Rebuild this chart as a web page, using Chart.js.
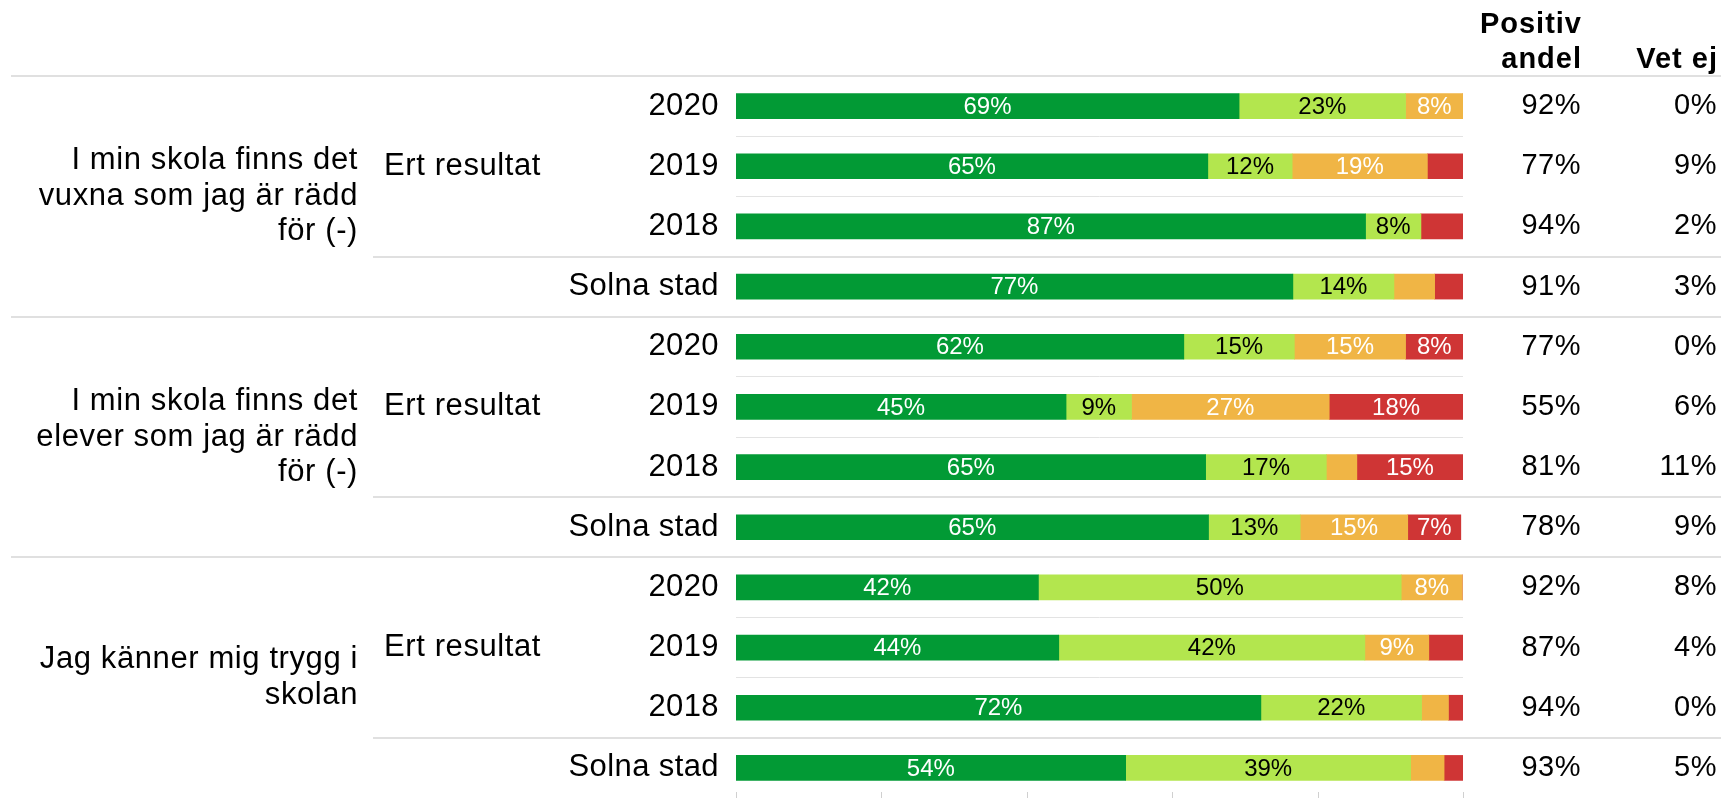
<!DOCTYPE html>
<html lang="sv">
<head>
<meta charset="utf-8">
<title>Trygghet</title>
<script src="https://cdn.jsdelivr.net/npm/chart.js@4"></script>
<style>
  html, body { margin: 0; padding: 0; background: #fff; overflow: hidden; }
  #wrap { position: relative; width: 1721px; height: 798px; }
</style>
</head>
<body>
<div id="wrap"><canvas id="barChart"></canvas></div>
<script>
// rows from top to bottom
var rowLabels = ['2020', '2019', '2018', 'Solna stad', '2020', '2019', '2018', 'Solna stad', '2020', '2019', '2018', 'Solna stad'];

var questions = [
    ['I min skola finns det', 'vuxna som jag är rädd', 'för (-)'],
    ['I min skola finns det', 'elever som jag är rädd', 'för (-)'],
    ['Jag känner mig trygg i', 'skolan']
];
var subgroupLabel = 'Ert resultat';

// shares in percent, most positive answer first
var mycketPositiv = [69.2, 64.9, 86.6, 76.6, 61.6, 45.4, 64.6, 65.0, 41.6, 44.4, 72.2, 53.6];
var ganskaPositiv = [22.9, 11.6, 7.6, 13.9, 15.2, 9.0, 16.6, 12.6, 49.9, 42.1, 22.1, 39.2];
var ganskaNegativ = [7.9, 18.6, 0, 5.6, 15.3, 27.2, 4.2, 14.8, 8.4, 8.8, 3.7, 4.6];
var mycketNegativ = [0, 4.9, 5.8, 3.9, 7.9, 18.4, 14.6, 7.3, 0, 4.7, 2.0, 2.6];

var positivAndel = [92, 77, 94, 91, 77, 55, 81, 78, 92, 87, 94, 93];
var vetEj = [0, 9, 2, 3, 0, 6, 11, 9, 8, 4, 0, 5];

var xTicks = [0, 20, 40, 60, 80, 100];

Chart.defaults.font.family = "'Liberation Sans', Arial, sans-serif";

// lines between the rows, the labels on the left and the two columns on the right
var sideText = {
    id: 'sideText',
    beforeDraw: function (chart) {
        // a little extra spacing for the row labels
        chart.ctx.letterSpacing = '0.4px';
    },
    afterDraw: function (chart) {
        var ctx = chart.ctx;
        var y = chart.scales.y;
        var x = chart.scales.x;
        var area = chart.chartArea;
        var band = y.getPixelForValue(1) - y.getPixelForValue(0);
        var W = chart.width;

        ctx.save();

        // separators
        ctx.strokeStyle = '#e0e0e0';
        ctx.lineWidth = 2;
        for (var i = 0; i < rowLabels.length; i++) {
            var top = y.getPixelForValue(i) - band / 2;
            var from = -1;
            if (i % 4 === 0) from = 11;
            if (i % 4 === 3) from = 373;
            if (from < 0) continue;
            ctx.beginPath();
            ctx.moveTo(from, Math.round(top));
            ctx.lineTo(W, Math.round(top));
            ctx.stroke();
        }

        // small tick marks under the bars
        ctx.strokeStyle = '#d0d0d0';
        ctx.lineWidth = 1;
        xTicks.forEach(function (v) {
            var px = Math.round(x.getPixelForValue(v)) + 0.5;
            ctx.beginPath();
            ctx.moveTo(px, area.bottom - 6);
            ctx.lineTo(px, area.bottom);
            ctx.stroke();
        });

        ctx.fillStyle = '#000';
        ctx.textBaseline = 'middle';

        // questions and sub group
        ctx.font = "31px 'Liberation Sans', Arial, sans-serif";
        ctx.letterSpacing = '0.6px';
        questions.forEach(function (lines, g) {
            var mid = (y.getPixelForValue(g * 4) + y.getPixelForValue(g * 4 + 3)) / 2;
            var lh = 35.5;
            var start = mid - (lines.length - 1) * lh / 2;
            ctx.textAlign = 'right';
            lines.forEach(function (t, k) {
                ctx.fillText(t, 358, start + k * lh);
            });
            ctx.textAlign = 'left';
            ctx.fillText(subgroupLabel, 384, y.getPixelForValue(g * 4 + 1));
        });

        // headers
        ctx.font = "bold 29px 'Liberation Sans', Arial, sans-serif";
        ctx.letterSpacing = '1px';
        ctx.textAlign = 'right';
        ctx.fillText('Positiv', 1582, 25);
        ctx.fillText('andel', 1582, 60);
        ctx.fillText('Vet ej', 1718, 60);

        // right columns
        ctx.font = "29px 'Liberation Sans', Arial, sans-serif";
        ctx.letterSpacing = '0.5px';
        for (var r = 0; r < rowLabels.length; r++) {
            var py = y.getPixelForValue(r);
            ctx.fillText(positivAndel[r] + '%', 1581, py);
            ctx.fillText(vetEj[r] + '%', 1717, py);
        }
        ctx.restore();
    }
};

// percent labels inside the bar segments
var barLabels = {
    id: 'barLabels',
    afterDatasetsDraw: function (chart) {
        var ctx = chart.ctx;
        ctx.save();
        ctx.font = "24px 'Liberation Sans', Arial, sans-serif";
        ctx.letterSpacing = '0px';
        ctx.textAlign = 'center';
        ctx.textBaseline = 'middle';
        chart.data.datasets.forEach(function (ds, d) {
            var meta = chart.getDatasetMeta(d);
            meta.data.forEach(function (bar, i) {
                var v = ds.data[i];
                if (v < 6.5) return;
                ctx.fillStyle = ds.labelColor;
                ctx.fillText(Math.round(v) + '%', (bar.x + bar.base) / 2, bar.y + 1);
            });
        });
        ctx.restore();
    }
};

var thinLines = [1, 2, 5, 6, 9, 10];

var ctx = document.getElementById('barChart').getContext('2d');
var barChart = new Chart(ctx, {
    type: 'bar',
    data: {
        labels: rowLabels,
        datasets: [
            { label: 'Mycket positivt', data: mycketPositiv, backgroundColor: '#029a35', labelColor: '#ffffff' },
            { label: 'Ganska positivt', data: ganskaPositiv, backgroundColor: '#b3e64e', labelColor: '#000000' },
            { label: 'Ganska negativt', data: ganskaNegativ, backgroundColor: '#f0b545', labelColor: '#ffffff' },
            { label: 'Mycket negativt', data: mycketNegativ, backgroundColor: '#cf3535', labelColor: '#ffffff' }
        ]
    },
    options: {
        indexAxis: 'y',
        responsive: true,
        maintainAspectRatio: false,
        animation: false,
        barThickness: 25,
        borderWidth: 0,
        layout: { padding: { top: 76, right: 258, bottom: 0, left: 0 } },
        plugins: {
            legend: { display: false },
            tooltip: { enabled: false }
        },
        scales: {
            x: { stacked: true, min: 0, max: 100, display: false },
            y: {
                stacked: true,
                border: { display: false },
                grid: {
                    offset: true,
                    drawTicks: false,
                    lineWidth: 1,
                    color: function (c) {
                        return thinLines.indexOf(c.index) >= 0 ? '#e3e3e3' : 'rgba(0,0,0,0)';
                    }
                },
                ticks: { color: '#000', font: { size: 31 }, padding: 17 },
                afterFit: function (scale) {
                    scale.width = 736;
                    scale.paddingTop = 0;
                    scale.paddingBottom = 0;
                }
            }
        }
    },
    plugins: [sideText, barLabels]
});
</script>
</body>
</html>
